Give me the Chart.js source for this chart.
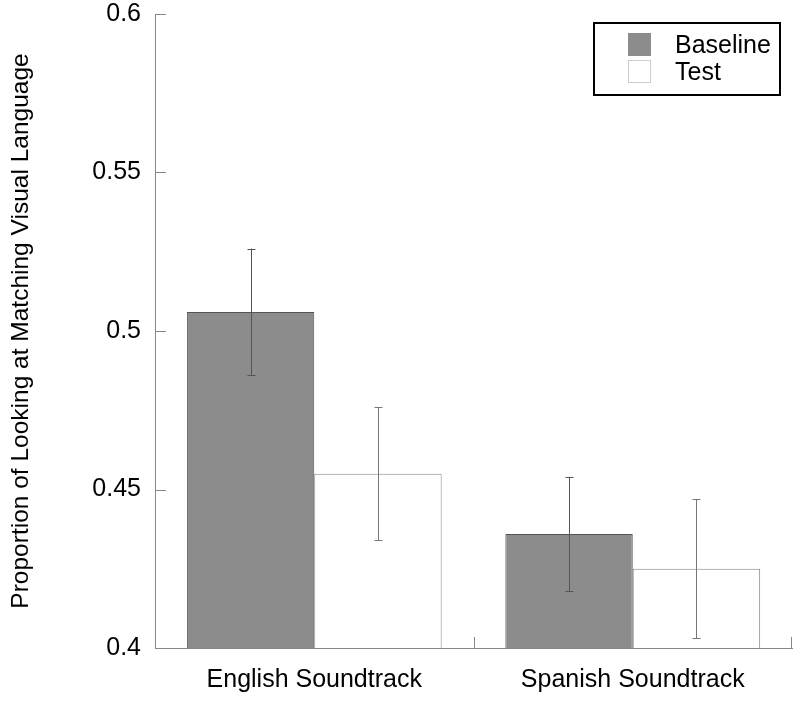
<!DOCTYPE html>
<html>
<head>
<meta charset="utf-8">
<script src="https://cdn.jsdelivr.net/npm/chart.js@4/dist/chart.umd.min.js"></script>
<style>
  html, body { margin: 0; padding: 0; background: #fff; }
  #wrap { width: 800px; height: 702px; }
</style>
</head>
<body>
<div id="wrap"><canvas id="chart" width="800" height="702"></canvas></div>
<script>
// data
const categories = ['English Soundtrack', 'Spanish Soundtrack'];
const baseline = [0.506, 0.436];
const baselineLow = [0.486, 0.418];
const baselineHigh = [0.526, 0.454];
const test = [0.455, 0.425];
const testLow = [0.434, 0.403];
const testHigh = [0.476, 0.447];
const yTicks = [0.4, 0.45, 0.5, 0.55, 0.6];

const AXIS = '#888';
const FONT = '"Liberation Sans", Arial, sans-serif';

// error bars on each bar
const errorBars = {
    id: 'errorBars',
    afterDatasetsDraw(chart) {
        const ctx = chart.ctx;
        const y = chart.scales.y;
        chart.data.datasets.forEach((ds, di) => {
            const meta = chart.getDatasetMeta(di);
            meta.data.forEach((bar, i) => {
                const top = y.getPixelForValue(ds.errHigh[i]);
                const bot = y.getPixelForValue(ds.errLow[i]);
                const x = Math.round(bar.x) + 0.5;
                ctx.save();
                ctx.strokeStyle = ds.errColor;
                ctx.lineWidth = 1;
                ctx.beginPath();
                ctx.moveTo(x, top); ctx.lineTo(x, bot);
                ctx.moveTo(x - 4, Math.round(top) + 0.5); ctx.lineTo(x + 4, Math.round(top) + 0.5);
                ctx.moveTo(x - 4, Math.round(bot) + 0.5); ctx.lineTo(x + 4, Math.round(bot) + 0.5);
                ctx.stroke();
                ctx.restore();
            });
        });
    }
};

// inward tick marks + legend box
const extras = {
    id: 'extras',
    afterDraw(chart) {
        const ctx = chart.ctx;
        const { x, y } = chart.scales;
        const area = chart.chartArea;
        ctx.save();
        ctx.strokeStyle = AXIS;
        ctx.lineWidth = 1;
        ctx.beginPath();
        yTicks.forEach(v => {
            const py = Math.round(y.getPixelForValue(v)) + 0.5;
            ctx.moveTo(area.left, py); ctx.lineTo(area.left + 11, py);
        });
        // ticks at category boundaries
        const mid = (x.getPixelForValue(0) + x.getPixelForValue(1)) / 2;
        [mid, area.right - 1].forEach(px => {
            const rx = Math.round(px) + 0.5;
            ctx.moveTo(rx, area.bottom); ctx.lineTo(rx, area.bottom - 11);
        });
        ctx.stroke();

        // legend
        ctx.strokeStyle = '#000';
        ctx.lineWidth = 2;
        ctx.strokeRect(594, 23, 186, 72);
        ctx.font = '25px ' + FONT;
        ctx.textBaseline = 'middle';
        ctx.textAlign = 'left';
        chart.data.datasets.forEach((ds, i) => {
            const top = 33 + i * 27;
            ctx.fillStyle = ds.backgroundColor;
            ctx.fillRect(628, top, 23, 23);
            ctx.strokeStyle = ds.legendBorder;
            ctx.lineWidth = 1;
            ctx.strokeRect(628.5, top + 0.5, 22, 22);
            ctx.fillStyle = '#000';
            ctx.fillText(ds.label, 675, top + 13);
        });
        ctx.restore();
    }
};

new Chart(document.getElementById('chart'), {
    type: 'bar',
    data: {
        labels: categories,
        datasets: [{
            label: 'Baseline',
            data: baseline,
            errLow: baselineLow,
            errHigh: baselineHigh,
            errColor: '#555',
            legendBorder: '#8c8c8c',
            backgroundColor: '#8c8c8c',
            borderColor: '#555',
            borderWidth: 1,
            categoryPercentage: 0.8,
            barPercentage: 1.0
        }, {
            label: 'Test',
            data: test,
            errLow: testLow,
            errHigh: testHigh,
            errColor: '#777',
            legendBorder: '#ccc',
            backgroundColor: '#ffffff',
            borderColor: '#888',
            borderWidth: 1,
            categoryPercentage: 0.8,
            barPercentage: 1.0
        }]
    },
    options: {
        responsive: false,
        animation: false,
        layout: { padding: { top: 0, right: 8, left: 0, bottom: 0 } },
        plugins: {
            legend: { display: false },
            tooltip: { enabled: false }
        },
        scales: {
            x: {
                grid: { display: false, drawTicks: false },
                border: { display: true, color: AXIS, width: 1 },
                ticks: { color: '#000', font: { family: FONT, size: 25 }, padding: 17 },
                afterFit: s => { s.height = 54; }
            },
            y: {
                min: 0.4,
                max: 0.6,
                grid: { display: false, drawTicks: false },
                border: { display: true, color: AXIS, width: 1 },
                afterBuildTicks: s => { s.ticks = yTicks.map(v => ({ value: v })); },
                ticks: {
                    color: '#000',
                    font: { family: FONT, size: 25 },
                    padding: 14,
                    callback: v => String(v)
                },
                title: {
                    display: true,
                    text: 'Proportion of Looking at Matching Visual Language',
                    color: '#000',
                    font: { family: FONT, size: 24.5 },
                    padding: { top: 7, bottom: 0 }
                },
                afterFit: s => { s.width = 155; s.paddingTop = 14; s.paddingBottom = 0; }
            }
        }
    },
    plugins: [errorBars, extras]
});
</script>
</body>
</html>
